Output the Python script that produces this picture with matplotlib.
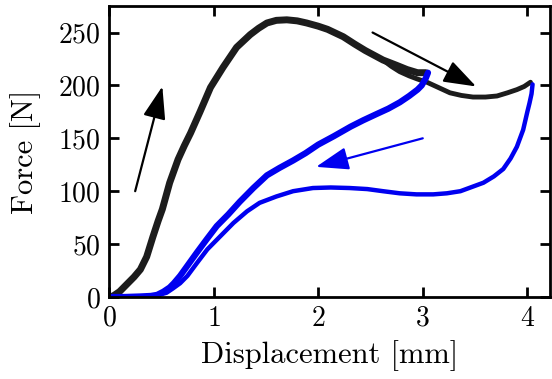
import matplotlib
matplotlib.use("Agg")
import matplotlib.pyplot as plt

plt.rcParams['font.family'] = ['cmr10', 'DejaVu Serif']
plt.rcParams['mathtext.fontset'] = 'cm'
plt.rcParams['axes.formatter.use_mathtext'] = True

# first loading curve (black), up to 3 mm
load1_x = [0, 0.04, 0.10, 0.17, 0.24, 0.30, 0.36, 0.42, 0.47, 0.51, 0.58, 0.66, 0.72, 0.78,
           0.87, 0.97, 1.09, 1.22, 1.35, 1.43, 1.51, 1.60, 1.70, 1.80, 1.89, 2.00, 2.09, 2.24,
           2.35, 2.45, 2.62, 2.75, 2.85, 2.95, 3.03]
load1_y = [0, 1, 5, 12, 19, 26, 38, 57, 72, 83, 108, 130, 143, 155, 175, 198, 217, 236, 248,
           254, 259, 261.5, 262, 261, 259, 256, 253, 246, 239, 233, 224, 219, 215, 212, 212]

# second loading branch (black), up to 4 mm
load2_x = [2.62, 2.70, 2.78, 2.87, 2.95, 3.04, 3.15, 3.26, 3.37, 3.48, 3.60, 3.71, 3.81, 3.90,
           3.97, 4.03]
load2_y = [224, 218, 213, 209, 206, 203, 198, 193, 190.5, 189, 189, 190, 193, 196, 199, 203]

# unloading from 3 mm (blue)
unl1_x = [3.05, 3.03, 2.99, 2.95, 2.87, 2.78, 2.67, 2.56, 2.43, 2.31, 2.15, 2.00, 1.88, 1.76,
          1.63, 1.51, 1.38, 1.25, 1.14, 1.03, 0.93, 0.84, 0.76, 0.68, 0.62, 0.58, 0.52, 0.46,
          0.40, 0.30, 0.15, 0]
unl1_y = [212, 207, 200, 196, 190, 184, 178, 173, 167, 161, 152, 144, 136, 129, 122, 115, 103,
          90, 78, 67, 54, 42, 31, 20, 13, 9, 5, 2, 1, 0.5, 0, 0]

# unloading from 4 mm (blue)
unl2_x = [4.05, 4.04, 4.02, 4.00, 3.96, 3.90, 3.84, 3.77, 3.68, 3.58, 3.47, 3.36, 3.23, 3.10,
          2.94, 2.78, 2.62, 2.47, 2.30, 2.12, 1.95, 1.76, 1.60, 1.44, 1.32, 1.19, 1.06, 0.94,
          0.84, 0.75, 0.68, 0.61, 0.55, 0.48, 0.40, 0.25, 0]
unl2_y = [201, 192, 183, 175, 158, 142, 131, 121, 114, 108, 104, 100, 98, 97, 97, 98, 100, 102,
          103, 103.5, 103, 100, 95, 89, 81, 70, 57, 45, 32, 20, 13, 8, 4, 2, 1, 0, 0]

fig = plt.figure(figsize=(5.52, 3.79), dpi=100)
ax = fig.add_axes([0.1975, 0.2164, 0.7995, 0.7676])

ax.plot(load1_x, load1_y, color='#1c1c1c', lw=5.0, solid_capstyle='round')
ax.plot(load2_x, load2_y, color='#1c1c1c', lw=3.5, solid_capstyle='round')
ax.plot(unl1_x, unl1_y, color='#0000f0', lw=4.5, solid_capstyle='round')
ax.plot(unl2_x, unl2_y, color='#0000f0', lw=3.2, solid_capstyle='round')

arrow = dict(arrowstyle='-|>,head_length=1.0,head_width=0.35', lw=1.6, shrinkA=0, shrinkB=0)
ax.annotate('', xy=(0.51, 199), xytext=(0.25, 100),
            arrowprops=dict(arrow, color='black', mutation_scale=20))
ax.annotate('', xy=(3.51, 199), xytext=(2.52, 250),
            arrowprops=dict(arrow, color='black', mutation_scale=20))
ax.annotate('', xy=(1.98, 123), xytext=(3.0, 150),
            arrowprops=dict(arrow, color='#0000f0', mutation_scale=20))

ax.set_xlim(0, 4.22)
ax.set_ylim(0, 275)
ax.set_xticks([0, 1, 2, 3, 4])
ax.set_yticks([0, 50, 100, 150, 200, 250])
ax.tick_params(direction='in', length=7, width=2, top=True, right=True, labelsize=20, pad=6)
for s in ax.spines.values():
    s.set_linewidth(2)

ax.set_xlabel('Displacement [mm]', fontsize=22, labelpad=6)
ax.set_ylabel('Force [N]', fontsize=22, labelpad=12)

fig.savefig('out.png', dpi=100)
